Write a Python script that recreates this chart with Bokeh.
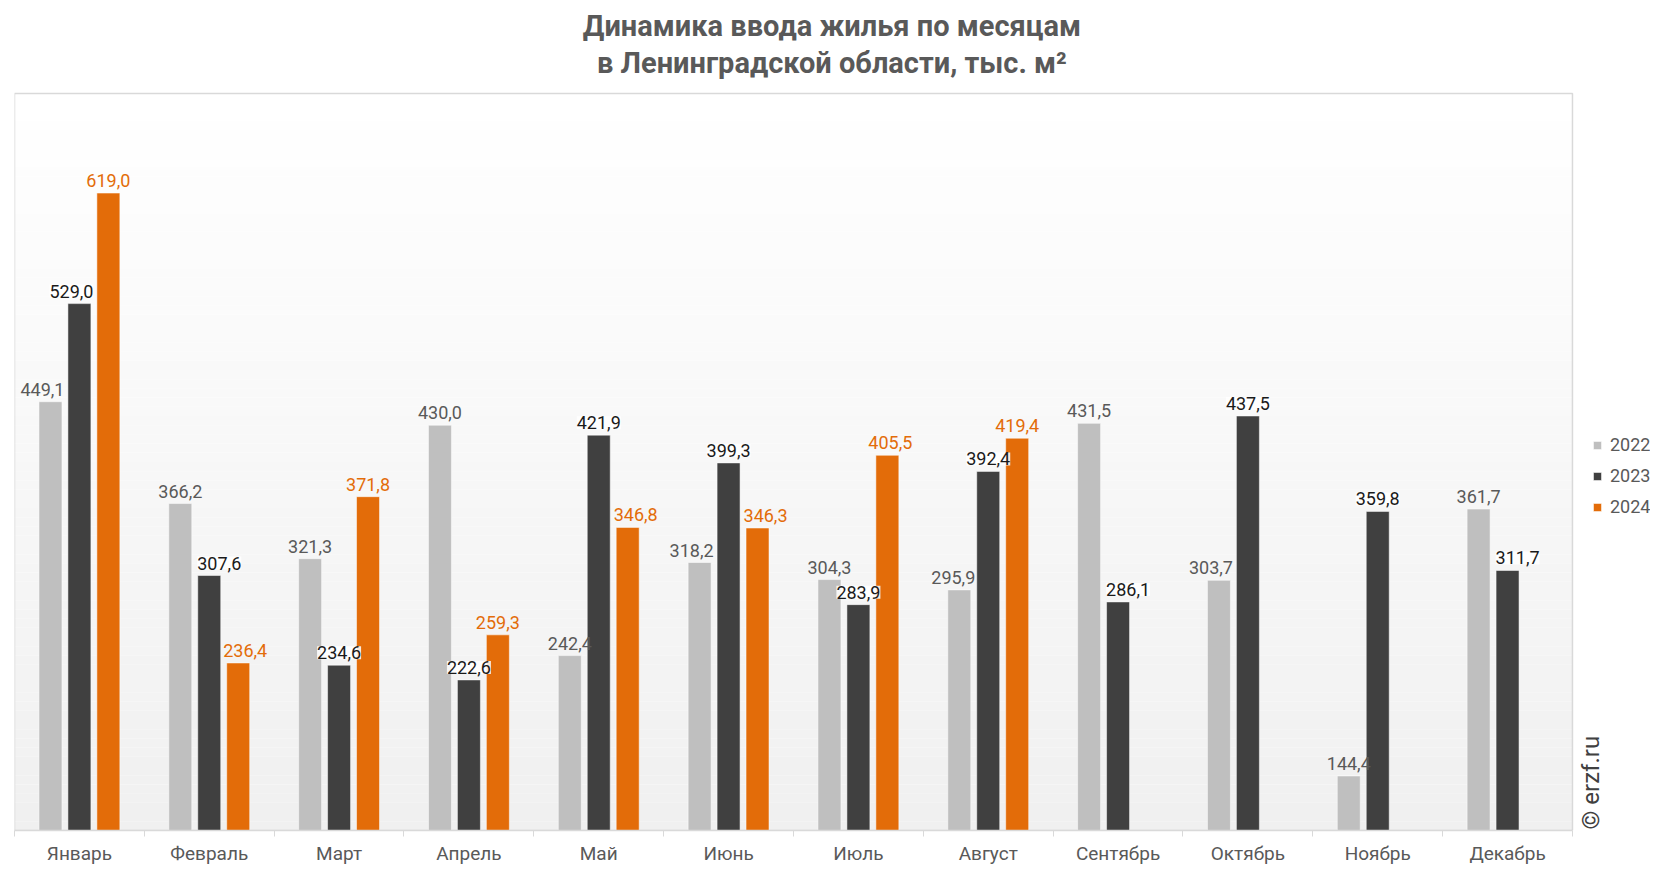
import numpy as np
from bokeh.plotting import figure
from bokeh.models import (ColumnDataSource, Range1d, FixedTicker, LabelSet, Label,
                          Legend, LegendItem, LinearAxis)
from bokeh.core.properties import value
from bokeh.transform import dodge
from bokeh.embed import file_html
from bokeh.resources import INLINE

months = ["Январь", "Февраль", "Март", "Апрель", "Май", "Июнь", "Июль",
          "Август", "Сентябрь", "Октябрь", "Ноябрь", "Декабрь"]
years = ["2022", "2023", "2024"]
v2022 = [449.1, 366.2, 321.3, 430.0, 242.4, 318.2, 304.3, 295.9, 431.5, 303.7, 144.4, 361.7]
v2023 = [529.0, 307.6, 234.6, 222.6, 421.9, 399.3, 283.9, 392.4, 286.1, 437.5, 359.8, 311.7]
v2024 = [619.0, 236.4, 371.8, 259.3, 346.8, 346.3, 405.5, 419.4]
title_lines = ["Динамика ввода жилья по месяцам", "в Ленинградской области, тыс. м²"]

colors = ["#bfbfbf", "#404040", "#e36c09"]
label_colors = ["#595959", "#1a1a1a", "#e36c09"]
offsets = [-0.223, 0.0, 0.223]
series = [v2022, v2023, v2024]

# horizontal nudges (px) of value labels, as placed in the original to avoid neighbouring bars
label_shift = [
    [-8, 0, 0, 0, 0, -8, 0, -6, 0, -8, 0, 0],
    [-8, 10, 0, 0, 0, 0, 0, 0, 10, 0, 0, 10],
    [0, 7, 0, 0, 8, 8, 3, 0],
]

Y0, Y1 = 100, 700          # value axis of the plot area
Y_TOP = 775.8              # extra room above the plot area for the title
NCAT = len(months)
X_END = NCAT + 0.601       # room on the right for legend and credit

p = figure(width=1650, height=867, output_backend="svg", toolbar_location=None,
           x_range=Range1d(0, X_END), y_range=Range1d(Y0, Y_TOP),
           y_axis_location=None, x_axis_location=None,
           min_border_left=14, min_border_right=0, min_border_top=0, min_border_bottom=30)
p.background_fill_color = "white"
p.border_fill_color = "white"
p.outline_line_color = None
p.xgrid.visible = False
p.ygrid.visible = False

# gradient background of the plot area
n = 80
edges = np.linspace(Y0, Y1, n + 1)
cols = []
for i in range(n):
    t = (i + 0.5) / n  # 0 bottom -> 1 top
    c = int(round(240 + 15 * t))
    cols.append("#%02x%02x%02x" % (c, c, c))
p.quad(left=0, right=NCAT, bottom=edges[:-1], top=edges[1:], fill_color=cols,
       line_color=None, level="image")
# plot-area border
p.quad(left=0, right=NCAT, bottom=Y0, top=Y1, fill_color=None,
       line_color="#d9d9d9", line_width=1.5)

fmt = lambda v: ("%.1f" % v).replace(".", ",")

renderers = []
for k, vals in enumerate(series):
    xs = [i + 0.5 for i in range(len(vals))]
    src = ColumnDataSource(dict(x=xs, top=vals, lbl=[fmt(v) for v in vals],
                                dx=label_shift[k][:len(vals)]))
    r = p.vbar(x=dodge("x", offsets[k], range=p.x_range), top="top", bottom=0, width=0.177,
               source=src, fill_color=colors[k], line_color="white", line_alpha=0.5, line_width=1)
    renderers.append(r)
    kw = {}
    if k == 1:
        kw = dict(background_fill_color="white", background_fill_alpha=0.85)
    ls = LabelSet(x=dodge("x", offsets[k], range=p.x_range), y="top", text="lbl", source=src,
                  x_offset="dx", text_align="center", text_baseline="bottom", y_offset=6,
                  text_font=value("Roboto"), text_font_size="18px",
                  text_color=label_colors[k], **kw)
    p.add_layout(ls)

# x axis: labels at category centres, tick marks at category boundaries
ax = LinearAxis(ticker=FixedTicker(ticks=[i + 0.5 for i in range(NCAT)],
                                   minor_ticks=list(range(NCAT + 1))))
ax.bounds = (0, NCAT)
ax.major_label_overrides = {i + 0.5: m for i, m in enumerate(months)}
ax.major_tick_out = 0
ax.major_tick_in = 0
ax.minor_tick_out = 6
ax.minor_tick_in = 0
ax.minor_tick_line_color = "#d9d9d9"
ax.axis_line_color = "#d9d9d9"
ax.axis_line_width = 1.5
ax.major_label_text_font = "Roboto"
ax.major_label_text_font_size = "19px"
ax.major_label_text_color = "#595959"
ax.major_label_standoff = 5
p.add_layout(ax, "below")

legend = Legend(items=[LegendItem(label=years[k], renderers=[renderers[k]]) for k in range(3)],
                location=(1578, 313), label_text_font="Roboto", label_text_font_size="18px",
                label_text_color="#595959", glyph_width=10, glyph_height=10,
                label_height=20, label_standoff=8, spacing=10, border_line_color=None,
                background_fill_alpha=0, margin=0, padding=8)
p.add_layout(legend)

# two-line title, each line centred on the page
for line, dy in zip(title_lines, [68, 31]):
    p.add_layout(Label(x=6.296, y=Y1, y_offset=dy, text=line,
                       text_font="Roboto", text_font_size="29px", text_font_style="bold",
                       text_color="#595959", text_align="center", text_baseline="middle"))

p.add_layout(Label(x=12.139, y=Y0, angle=np.pi / 2, y_offset=1,
                   text="© erzf.ru", text_font="Roboto", text_font_size="24px",
                   text_color="#404040", text_baseline="middle", text_align="left"))

open("out.html", "w").write(file_html(p, INLINE))
